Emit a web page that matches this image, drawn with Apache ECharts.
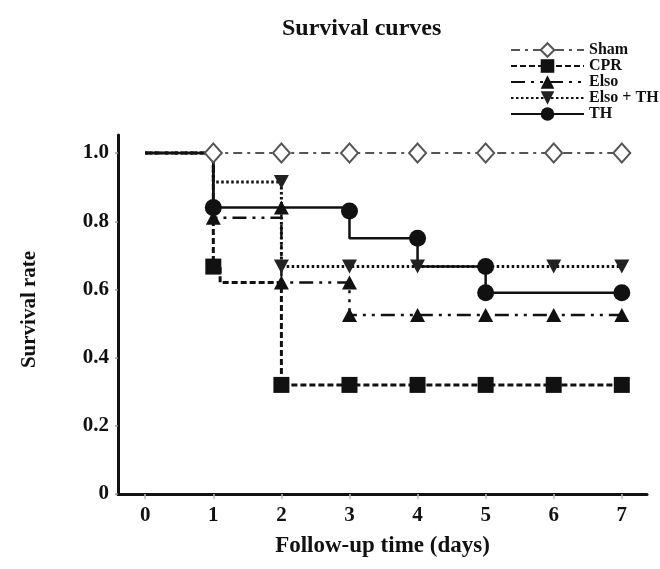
<!DOCTYPE html>
<html>
<head>
<meta charset="utf-8">
<script src="https://cdn.jsdelivr.net/npm/echarts@6/dist/echarts.min.js"></script>
<style>
  html, body { margin: 0; padding: 0; background: #fff; }
  #main { width: 660px; height: 569px; }
</style>
</head>
<body>
<div id="main"></div>
<script>
// tick labels
const dayTicks = [0, 1, 2, 3, 4, 5, 6, 7]
const rateTicks = [0, 0.2, 0.4, 0.6, 0.8, 1.0]

// step curves: vertex days, rates, and 1 where a marker is drawn
const shamDays = [0, 1, 2, 3, 4, 5, 6, 7]
const shamRate = [1, 1, 1, 1, 1, 1, 1, 1]
const shamMark = [0, 1, 1, 1, 1, 1, 1, 1]

const cprDays = [0, 1, 1.1, 2, 2, 3, 4, 5, 6, 7]
const cprRate = [1, 0.667, 0.62, 0.62, 0.32, 0.32, 0.32, 0.32, 0.32, 0.32]
const cprMark = [0, 1, 0, 0, 1, 1, 1, 1, 1, 1]

const elsoDays = [0, 1, 2, 2, 3, 3, 4, 5, 6, 7]
const elsoRate = [1, 0.81, 0.84, 0.62, 0.62, 0.525, 0.525, 0.525, 0.525, 0.525]
const elsoMark = [0, 1, 1, 1, 1, 1, 1, 1, 1, 1]

const elsoThDays = [0, 1, 2, 2, 3, 4, 5, 6, 7]
const elsoThRate = [1, 0.915, 0.915, 0.667, 0.667, 0.667, 0.667, 0.667, 0.667]
const elsoThMark = [0, 0, 1, 1, 1, 1, 0, 1, 1]

const thDays = [0, 1, 3, 3, 4, 4, 5, 5, 7]
const thRate = [1, 0.84, 0.83, 0.75, 0.75, 0.667, 0.667, 0.59, 0.59]
const thMark = [0, 1, 1, 0, 1, 0, 1, 1, 1]

const font = "'Liberation Serif', 'Times New Roman', serif"

function pts (days, rate, mark) {
  return days.map(function (d, i) {
    const item = { value: [d, rate[i]] }
    if (!mark[i]) item.symbol = 'none'
    return item
  })
}

function curve (name, data, lineStyle, symbol, symbolSize, itemStyle) {
  return {
    name: name,
    type: 'line',
    step: 'end',
    data: data,
    symbol: symbol,
    symbolSize: symbolSize,
    lineStyle: lineStyle,
    itemStyle: itemStyle,
    animation: false
  }
}

const chart = echarts.init(document.getElementById('main'))

const option = {
  backgroundColor: '#fff',
  title: {
    text: 'Survival curves',
    left: 277,
    top: 12,
    textStyle: { fontFamily: font, fontWeight: 'bold', fontSize: 24, color: '#111' }
  },
  legend: {
    orient: 'vertical',
    left: 505,
    top: 37,
    itemWidth: 73,
    itemHeight: 17,
    itemGap: 0,
    textStyle: { fontFamily: font, fontWeight: 'bold', fontSize: 16, color: '#111', lineHeight: 15 },
    data: ['Sham', 'CPR', 'Elso', 'Elso + TH', 'TH']
  },
  grid: { left: 118, right: 13, top: 135, bottom: 75, outerBoundsMode: 'none' },
  xAxis: {
    type: 'value',
    min: -0.4,
    max: 7.37,
    name: 'Follow-up time (days)',
    nameLocation: 'middle',
    nameGap: 41,
    nameTextStyle: { fontFamily: font, fontWeight: 'bold', fontSize: 23, color: '#111' },
    splitLine: { show: false },
    axisLine: { onZero: false, lineStyle: { color: '#111', width: 3 } },
    axisTick: { customValues: dayTicks, length: 5, lineStyle: { color: '#bbb', width: 1.5 } },
    axisLabel: {
      customValues: dayTicks,
      margin: 11,
      fontFamily: font, fontWeight: 'bold', fontSize: 21, color: '#111'
    }
  },
  yAxis: {
    type: 'value',
    min: 0,
    max: 1.053,
    name: 'Survival rate',
    nameLocation: 'middle',
    nameRotate: 90,
    nameGap: 78,
    nameTextStyle: { fontFamily: font, fontWeight: 'bold', fontSize: 21, color: '#111', padding: [0, 0, 0, 10] },
    splitLine: { show: false },
    axisLine: { onZero: false, lineStyle: { color: '#111', width: 3 } },
    axisTick: { customValues: rateTicks, length: 3, lineStyle: { color: '#999', width: 1.5 } },
    axisLabel: {
      customValues: rateTicks,
      margin: 9,
      fontFamily: font, fontWeight: 'bold', fontSize: 21, color: '#111',
      formatter: function (v) { return v === 0 ? '0' : v.toFixed(1) }
    }
  },
  series: [
    curve('Sham', pts(shamDays, shamRate, shamMark),
      { color: '#555', width: 2, type: [9, 5, 3, 5] },
      'diamond', [17, 19], { color: '#fff', borderColor: '#555', borderWidth: 2 }),
    curve('CPR', pts(cprDays, cprRate, cprMark),
      { color: '#111', width: 3, type: [6, 3] },
      'rect', 16, { color: '#111' }),
    curve('Elso', pts(elsoDays, elsoRate, elsoMark),
      { color: '#111', width: 2.5, type: [14, 6, 3, 6, 3, 6] },
      'triangle', [15, 14], { color: '#111' }),
    curve('Elso + TH', pts(elsoThDays, elsoThRate, elsoThMark),
      { color: '#111', width: 3, type: [2.5, 2.5] },
      'path://M0,0 L10,0 L5,10 Z', [15, 14], { color: '#222' }),
    curve('TH', pts(thDays, thRate, thMark),
      { color: '#111', width: 2.5, type: 'solid' },
      'circle', 17, { color: '#111' })
  ]
}
chart.setOption(option)
</script>
</body>
</html>
